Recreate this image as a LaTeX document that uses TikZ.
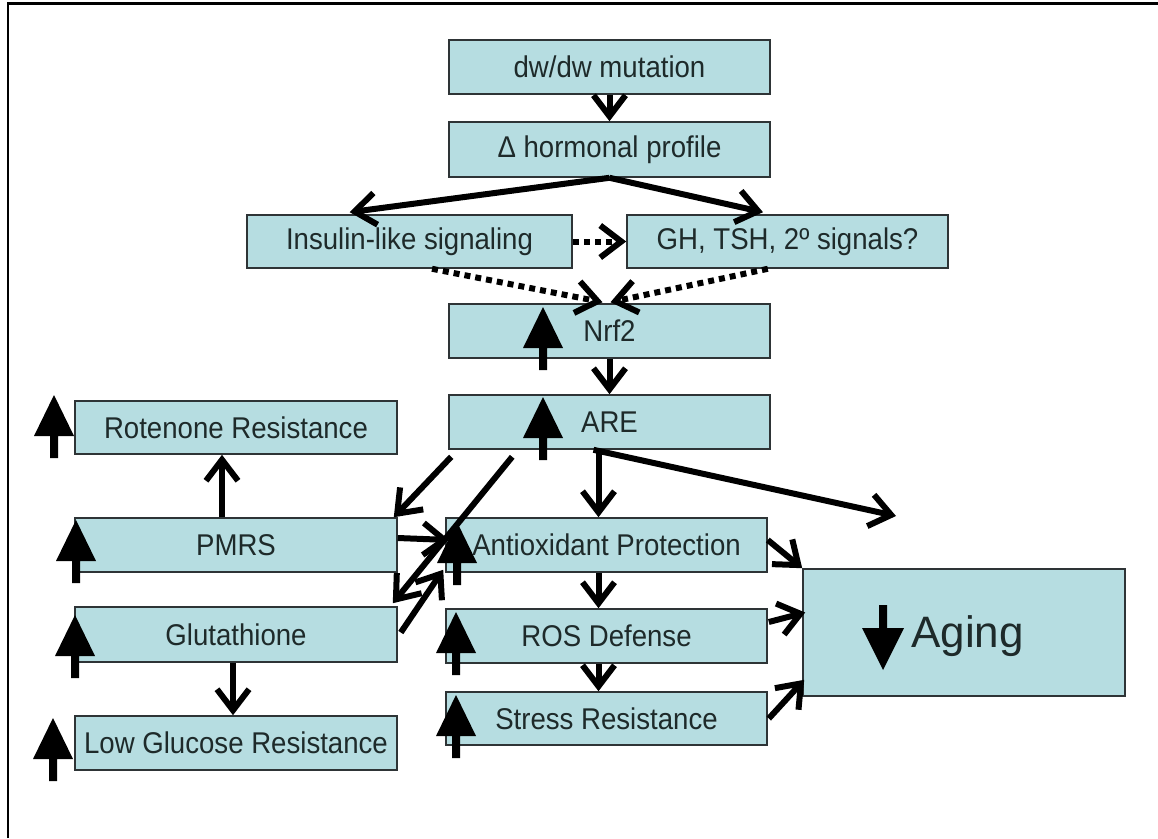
\documentclass[tikz,border=0pt]{standalone}
\usepackage{fontspec}
\setmainfont{Liberation Sans}[FakeStretch=0.92]
\newfontfamily\agingfont{Liberation Sans}
\usetikzlibrary{arrows.meta,calc}
\definecolor{boxfill}{HTML}{B6DDE1}
\definecolor{boxline}{HTML}{2E3436}
\definecolor{txt}{HTML}{1E2A2A}
\tikzset{
  box/.style={draw=boxline, line width=1.6pt, fill=boxfill, minimum width=321pt, minimum height=54pt, inner sep=0pt,
    text=txt, font=\fontsize{30}{34}\selectfont},
  arr/.style={line width=6pt, -{Straight Barb[length=21pt,width=32pt,line width=6pt]}},
  dotarr/.style={arr, dash pattern=on 6pt off 5pt},
  uparrow/.pic={\fill[black] (0,0)--(20,41)--(4,41)--(4,63)--(-4,63)--(-4,41)--(-20,41)--cycle;},
  downarrow/.pic={\fill[black] (0,0)--(-21,-42)--(-4,-42)--(-4,-65)--(4,-65)--(4,-42)--(21,-42)--cycle;}
}
\begin{document}
\begin{tikzpicture}[x=1pt,y=-1pt]
\useasboundingbox (0,0) rectangle (1158,838);
\fill[white] (0,0) rectangle (1158,838);
\draw[line width=2.8pt] (8,838) -- (8,3.3) -- (1158,3.3);

% boxes
\node[box] (dw) at (609.5,67) {dw/dw mutation};
\node[box, minimum height=55pt] (delta) at (609.5,149.5) {Δ hormonal profile};
\node[box, minimum width=325pt, minimum height=53pt] (ins) at (409.5,241.5) {Insulin-like signaling};
\node[box, minimum height=53pt] (gh) at (787.5,241.5) {GH, TSH, 2º signals?};
\node[box] (nrf) at (609.5,331) {Nrf2};
\node[box] (are) at (609.5,422) {ARE};
\node[box, minimum width=322pt, minimum height=53pt] (rot) at (236,427.5) {Rotenone Resistance};
\node[box, minimum width=322pt] (pmrs) at (236,545) {PMRS};
\node[box] (anti) at (606.5,545) {Antioxidant Protection};
\node[box, minimum width=322pt, minimum height=55pt] (glu) at (236,634.5) {Glutathione};
\node[box] (ros) at (606.5,636) {ROS Defense};
\node[box, minimum height=53pt] (stress) at (606.5,718.5) {Stress Resistance};
\node[box, minimum width=322pt] (low) at (236,743) {Low Glucose Resistance};
\node[box, minimum width=322pt, minimum height=127pt] (aging) at (964,632.5) {};
\node[anchor=base west, inner sep=0pt, text=txt, font=\agingfont\fontsize{44}{50}\selectfont] (agtext) at (911,647) {Aging};

% fat up/down arrows
\pic at (54,395) {uparrow};
\pic at (76,520) {uparrow};
\pic at (75,615) {uparrow};
\pic at (53,718) {uparrow};
\pic at (543,307) {uparrow};
\pic at (543,397) {uparrow};
\pic at (457,522) {uparrow};
\pic at (456,612) {uparrow};
\pic at (456,695) {uparrow};
\pic at (883,670) {downarrow};

% connectors
\coordinate (free) at (896,516);
\draw[arr] (dw.south) -- (delta.north);
\draw[arr] (delta.south) -- ($(ins.north west)!0.317!(ins.north east)+(0,-2)$);
\draw[arr] (delta.south) -- ($(gh.north west)!0.424!(gh.north east)+(0,-2)$);
\draw[dotarr] (ins.east) -- (gh.west);
\draw[dotarr] ($(ins.south west)!0.569!(ins.south east)$) -- ($(nrf.north)+(-7,-1)$);
\draw[dotarr] ($(gh.south west)!0.439!(gh.south east)$) -- ($(nrf.north)+(1,-1)$);
\draw[arr] (nrf.south) -- (are.north);
\draw[arr] ($(are.south)+(-11,0)$) -- ($(anti.north)+(-8,0)$);
\draw[arr] ($(are.south)+(-16,0)$) -- (free);
\draw[arr] ($(are.south west)+(3,7)$) -- ($(pmrs.north east)+(-4,0)$);
\draw[arr] ($(are.south west)+(64,7)$) -- ($(glu.north east)+(-5,-3)$);
\draw[arr] ($(pmrs.east)+(0,-7)$) -- ($(anti.west)+(4,-5)$);
\draw[arr] ($(glu.east)+(3,-2)$) -- ($(anti.south west)+(-2,-3)$);
\draw[arr] ($(pmrs.north)+(-14,0)$) -- ($(rot.south)+(-14,0)$);
\draw[arr] ($(glu.south)+(-3,0)$) -- ($(low.north)+(-3,0)$);
\draw[arr] ($(anti.south)+(-8,0)$) -- ($(ros.north)+(-8,0)$);
\draw[arr] ($(ros.south)+(-8,0)$) -- ($(stress.north)+(-8,0)$);
\draw[arr] ($(anti.east)+(0,-5)$) -- (aging.north west);
\draw[arr] ($(ros.east)+(1,-14)$) -- ($(aging.west)+(3,-20)$);
\draw[arr] ($(stress.east)+(1,0)$) -- ($(aging.south west)+(2,-17)$);
\end{tikzpicture}
\end{document}
